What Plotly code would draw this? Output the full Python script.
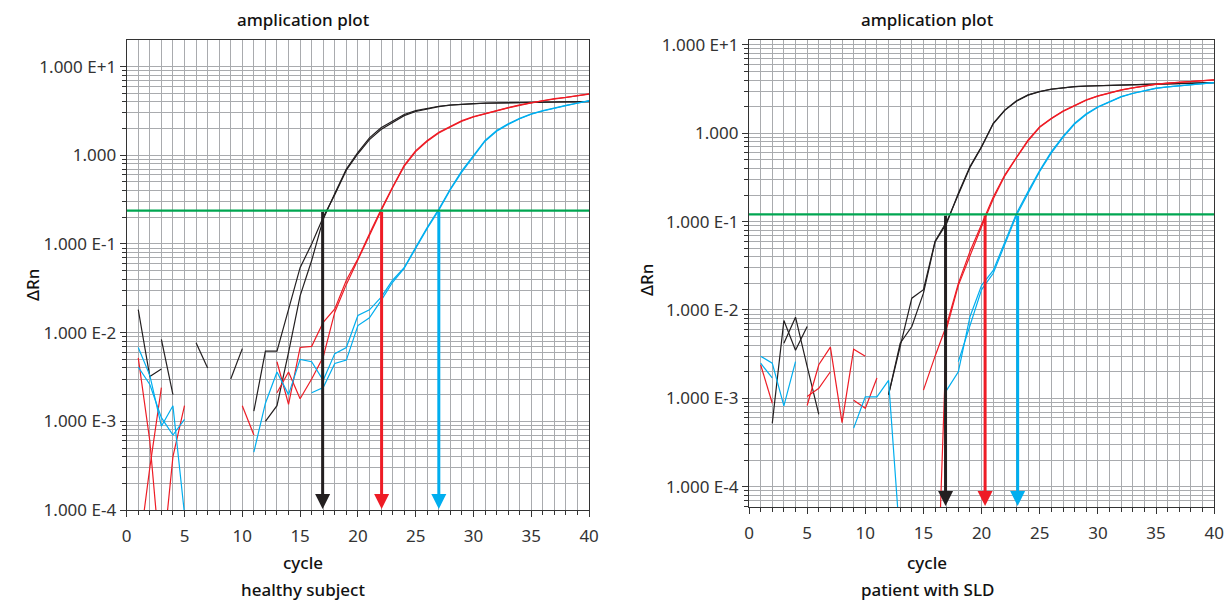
import numpy as np
import plotly.graph_objects as go

cycles = list(range(1, 41))
N = None

# ---------- healthy subject ----------
h_black_a = [0.0182, 0.0032, 0.0039, N, N, 0.0077, 0.0040, N, 0.0030, 0.0066,
             N, 0.0010, 0.0015, 0.0060, 0.026, 0.065, 0.19, 0.37, 0.70, 1.08,
             1.57, 2.04, 2.42, 2.88, 3.19, 3.39, 3.57, 3.69, 3.77, 3.83,
             3.87, 3.90, 3.93, 3.95, 3.96, 3.98, 3.99, 4.00, 4.02, 4.03]
h_black_b = [N, N, 0.0084, 0.0020, N, N, N, N, N, N,
             0.0013, 0.0062, 0.0062, 0.018, 0.054, 0.10, 0.20, 0.36, 0.68, 1.04,
             1.50, 1.95, 2.35, 2.80, 3.12, 3.35, 3.54, 3.67, 3.76, 3.82,
             3.86, 3.89, 3.92, 3.94, 3.96, 3.97, 3.99, 4.00, 4.01, 4.02]
h_red_a = [0.0052, 0.0006, 0.00002, 0.0004, 0.0015, N, N, N, N, 0.0015,
           0.0007, N, 0.0047, 0.00155, 0.0068, 0.0070, 0.0131, 0.0185, 0.039, 0.068,
           0.13, 0.245, 0.44, 0.77, 1.13, 1.47, 1.82, 2.11, 2.46, 2.73,
           2.97, 3.19, 3.45, 3.70, 3.92, 4.15, 4.35, 4.50, 4.72, 4.92]
h_red_b = [0.00003, 0.0003, 0.0024, N, N, N, N, N, N, N,
           N, N, 0.0021, 0.0036, 0.0018, 0.0030, 0.0053, 0.017, 0.035, 0.065,
           0.125, 0.235, 0.43, 0.75, 1.10, 1.44, 1.78, 2.08, 2.42, 2.70,
           2.95, 3.17, 3.42, 3.67, 3.90, 4.12, 4.32, 4.48, 4.70, 4.90]
h_blue_a = [0.0068, 0.0033, 0.00088, 0.0015, 0.00009, N, N, N, N, N,
            0.00045, 0.0016, 0.0036, 0.0020, 0.0050, 0.0047, 0.0029, 0.0058, 0.0068, 0.0156,
            0.0181, 0.025, 0.039, 0.054, 0.092, 0.154, 0.248, 0.42, 0.67, 1.00,
            1.47, 1.90, 2.26, 2.61, 2.93, 3.19, 3.45, 3.66, 3.89, 4.14]
h_blue_b = [0.0041, 0.0026, 0.0011, 0.0007, 0.00105, N, N, N, N, N,
            N, N, N, N, N, 0.0021, 0.0024, 0.0045, 0.0049, 0.012,
            0.0147, 0.023, 0.037, 0.053, 0.090, 0.150, 0.240, 0.41, 0.65, 0.98,
            1.44, 1.87, 2.23, 2.58, 2.90, 3.16, 3.42, 3.63, 3.86, 4.10]
h_threshold = 0.238
h_ct = [16.95, 22.05, 27.0]

# ---------- patient with SLD ----------
p_black_a = [N, 0.00052, 0.0076, 0.0035, 0.0065, N, N, N, N, N,
             N, 0.0011, 0.0042, 0.0065, 0.0155, 0.059, 0.096, 0.21, 0.42, 0.71,
             1.30, 1.84, 2.33, 2.72, 2.97, 3.16, 3.30, 3.38, 3.43, 3.47,
             3.50, 3.53, 3.55, 3.58, 3.60, 3.63, 3.66, 3.69, 3.72, 3.75]
p_black_b = [N, N, 0.0042, 0.0083, 0.0023, 0.00066, N, N, N, N,
             N, 0.0011, 0.0038, 0.0136, 0.017, 0.060, 0.10, 0.20, 0.41, 0.70,
             1.28, 1.82, 2.31, 2.70, 2.96, 3.15, 3.29, 3.37, 3.42, 3.46,
             3.49, 3.52, 3.55, 3.58, 3.60, 3.63, 3.66, 3.69, 3.72, 3.75]
p_red_a = [0.0024, 0.00088, N, N, 0.00083, 0.0024, 0.0038, 0.00053, 0.0036, 0.0030,
           N, N, N, N, 0.00124, 0.0030, 0.0068, 0.020, 0.046, 0.092,
           0.19, 0.34, 0.54, 0.84, 1.19, 1.48, 1.79, 2.09, 2.39, 2.65,
           2.88, 3.10, 3.27, 3.44, 3.60, 3.70, 3.78, 3.85, 3.95, 4.03]
p_red_b = [N, N, N, N, 0.00105, 0.0013, 0.0020, N, 0.00095, 0.00077,
           0.0017, N, N, N, N, 0.000001, 0.0062, 0.019, 0.042, 0.088,
           0.18, 0.33, 0.53, 0.82, 1.17, 1.46, 1.77, 2.07, 2.37, 2.63,
           2.86, 3.08, 3.26, 3.43, 3.58, 3.69, 3.77, 3.85, 3.95, 4.03]
p_blue_a = [0.0030, 0.0025, 0.00082, 0.0026, N, N, N, N, 0.00046, 0.00104,
            0.00104, 0.0016, 0.000023, N, N, N, 0.00124, 0.0020, 0.0084, 0.019,
            0.028, 0.059, 0.124, 0.22, 0.38, 0.62, 0.92, 1.30, 1.66, 2.00,
            2.29, 2.60, 2.84, 3.05, 3.24, 3.36, 3.47, 3.57, 3.66, 3.75]
p_blue_b = [0.0025, 0.0017, N, N, N, N, N, N, N, N,
            N, N, N, N, N, N, N, 0.0026, 0.0065, 0.017,
            0.026, 0.055, 0.118, 0.21, 0.37, 0.60, 0.90, 1.27, 1.63, 1.97,
            2.27, 2.58, 2.82, 3.03, 3.22, 3.35, 3.46, 3.56, 3.65, 3.74]
p_threshold = 0.121
p_ct = [16.9, 20.3, 23.1]

y_ticks = [1e-4, 1e-3, 1e-2, 1e-1, 1, 10]
y_ticktext = ["1.000 E-4", "1.000 E-3", "1.000 E-2", "1.000 E-1", "1.000", "1.000 E+1"]
x_ticks = [0, 5, 10, 15, 20, 25, 30, 35, 40]
panel_titles = ["amplication plot", "amplication plot"]
panel_captions = ["healthy subject", "patient with SLD"]

BLACK = "#231f20"
RED = "#ee1c25"
BLUE = "#00aeef"
GREEN = "#00a651"
GRID = "#a9abae"
FONT = "Noto Sans"

W, H = 1228, 602
def px(x):
    return x / W
def py(y):
    return 1 - y / H

panels = [
    dict(xa="x", ya="y", dom_x=[px(126.7), px(589.1)], dom_y=[py(510), py(40)],
         yrange=[-4.0, 1.30],
         series=[(h_black_a, BLACK), (h_black_b, BLACK), (h_red_a, RED), (h_red_b, RED),
                 (h_blue_a, BLUE), (h_blue_b, BLUE)],
         thr=h_threshold, ct=h_ct, cx=303, lx=32, ly=285),
    dict(xa="x2", ya="y2", dom_x=[px(749), px(1214.2)], dom_y=[py(507), py(40)],
         yrange=[-4.23, 1.056],
         series=[(p_black_a, BLACK), (p_black_b, BLACK), (p_red_a, RED), (p_red_b, RED),
                 (p_blue_a, BLUE), (p_blue_b, BLUE)],
         thr=p_threshold, ct=p_ct, cx=927, lx=647, ly=280),
]

minor_vals = [m * 10.0 ** e for e in range(-5, 2) for m in range(2, 10)]

fig = go.Figure()
annotations = []
label_font = dict(family=FONT, size=17, color="#111", weight=500)
for i, p in enumerate(panels):
    for vals, col in p["series"]:
        fig.add_trace(go.Scatter(x=cycles, y=vals, mode="lines", xaxis=p["xa"], yaxis=p["ya"],
                                 line=dict(color=col, width=1.2), showlegend=False,
                                 connectgaps=False, hoverinfo="skip"))
    fig.add_trace(go.Scatter(x=[0, 40], y=[p["thr"], p["thr"]], mode="lines",
                             xaxis=p["xa"], yaxis=p["ya"], line=dict(color=GREEN, width=2.2),
                             showlegend=False, hoverinfo="skip"))
    for ct, col in zip(p["ct"], [BLACK, RED, BLUE]):
        annotations.append(dict(x=ct, y=p["yrange"][0] + 0.01, ax=ct, ay=np.log10(p["thr"]),
                                xref=p["xa"], yref=p["ya"], axref=p["xa"], ayref=p["ya"],
                                showarrow=True, arrowhead=2, arrowsize=1.0, arrowwidth=3,
                                arrowcolor=col, text=""))
    for txt, yy in [(panel_titles[i], 20), ("cycle", 562), (panel_captions[i], 589)]:
        annotations.append(dict(x=px(p["cx"]), y=py(yy), xref="paper", yref="paper",
                                xanchor="center", yanchor="middle", text=txt,
                                showarrow=False, font=label_font))
    annotations.append(dict(x=px(p["lx"]), y=py(p["ly"]), xref="paper", yref="paper",
                            xanchor="center", yanchor="middle", text="ΔRn", textangle=-90,
                            showarrow=False, font=label_font))

axis_common = dict(showline=True, linecolor="#333", linewidth=1.3, mirror=True,
                   gridcolor=GRID, gridwidth=1.4, zeroline=False, automargin=False,
                   ticks="outside", tickcolor="#333", ticklen=6,
                   tickfont=dict(family=FONT, size=17, color="#333"))
layout = dict(width=W, height=H, margin=dict(l=0, r=0, t=0, b=0),
              paper_bgcolor="white", plot_bgcolor="white", annotations=annotations)
for i, p in enumerate(panels):
    xk = "xaxis" if i == 0 else "xaxis2"
    yk = "yaxis" if i == 0 else "yaxis2"
    layout[xk] = dict(axis_common, domain=p["dom_x"], range=[0, 40], tickmode="array",
                      tickvals=x_ticks, anchor=p["ya"], ticklabelstandoff=4,
                      minor=dict(dtick=1, tick0=0, showgrid=True, gridcolor=GRID, gridwidth=1.4,
                                 ticks="outside", ticklen=4, tickcolor="#333"))
    layout[yk] = dict(axis_common, domain=p["dom_y"], type="log", range=p["yrange"],
                      tickmode="array", tickvals=y_ticks, ticktext=y_ticktext, anchor=p["xa"],
                      minor=dict(tickmode="array", tickvals=minor_vals, showgrid=True,
                                 gridcolor=GRID, gridwidth=1.4, ticks="outside", ticklen=4,
                                 tickcolor="#333"))
fig.update_layout(**layout)
fig.write_html("out.html", config={"displayModeBar": False},
               post_script="document.body.style.margin='0px';")
